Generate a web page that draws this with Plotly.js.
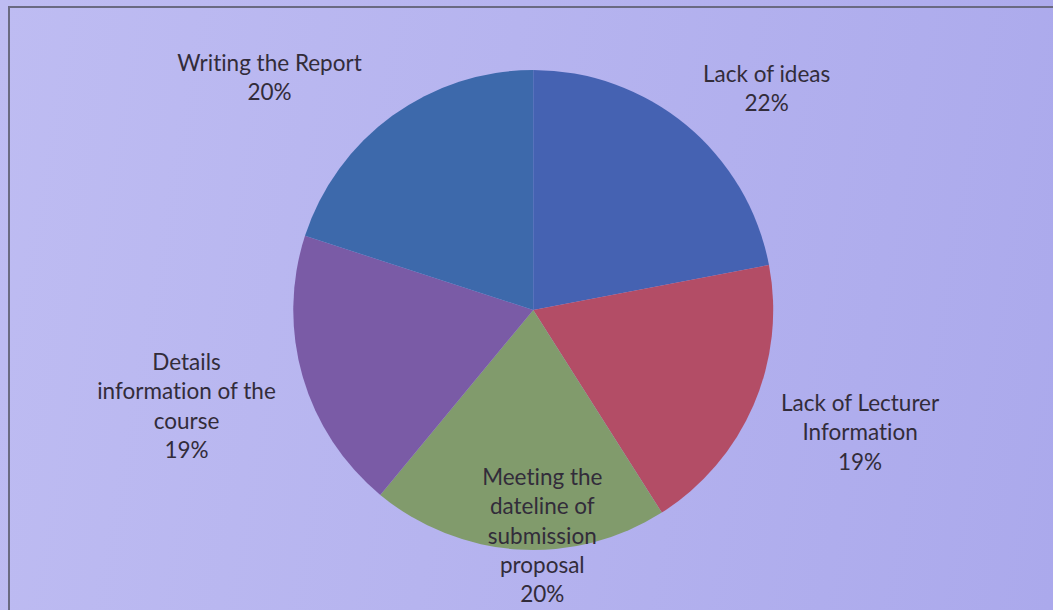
<!DOCTYPE html>
<html>
<head>
<meta charset="utf-8">
<script src="https://cdn.plot.ly/plotly-3.0.1.min.js"></script>
<style>
  html, body { margin: 0; padding: 0; width: 1053px; height: 610px; overflow: hidden; }
  body { background: linear-gradient(100deg, #bebcf2 0%, #b6b4ef 45%, #aba9ec 100%); }
  #frame { position: absolute; left: 8px; top: 6px; width: 1100px; height: 700px;
           border-left: 2px solid #6a6a82; border-top: 2px solid #6a6a82; }
  #chart { position: absolute; left: 0; top: 0; width: 1053px; height: 610px; }
  #chart text { font-variant-ligatures: none; font-feature-settings: "liga" 0, "clig" 0; }
</style>
</head>
<body>
<div id="frame"></div>
<div id="chart"></div>
<script>
// Data
const categories = [
  "Lack of ideas",
  "Lack of Lecturer<br>Information",
  "Meeting the<br>dateline of<br>submission<br>proposal",
  "Details<br>information of the<br>course",
  "Writing the Report"
];
const values = [22, 19, 20, 19, 20];
const sliceColors = ["#4562b2", "#b34d66", "#819b6c", "#7a5ba6", "#3d69ab"];

// Label placement (paper coordinates) - style only
const labelPos = [
  {x: 0.728, y: 0.856},
  {x: 0.817, y: 0.292},
  {x: 0.515, y: 0.123},
  {x: 0.177, y: 0.336},
  {x: 0.256, y: 0.874}
];

const total = values.reduce((a, b) => a + b, 0);
const annotations = categories.map((c, i) => ({
  xref: 'paper', yref: 'paper',
  x: labelPos[i].x, y: labelPos[i].y,
  xanchor: 'center', yanchor: 'middle',
  showarrow: false, align: 'center',
  text: c + '<br>' + Math.round(values[i] / total * 100) + '%',
  font: {family: 'Lato, "Open Sans", sans-serif', size: 22.5, color: '#322c3a'}
}));

const trace = {
  type: 'pie',
  labels: categories,
  values: values,
  sort: false,
  direction: 'clockwise',
  rotation: 0,
  marker: {colors: sliceColors, line: {width: 0}},
  textinfo: 'none',
  hoverinfo: 'none',
  showlegend: false,
  domain: {x: [0.2773, 0.7355], y: [0.0984, 0.8852]}
};

const layout = {
  width: 1053, height: 610,
  margin: {l: 0, r: 0, t: 0, b: 0},
  paper_bgcolor: 'rgba(0,0,0,0)',
  plot_bgcolor: 'rgba(0,0,0,0)',
  showlegend: false,
  annotations: annotations
};

Plotly.newPlot('chart', [trace], layout, {displayModeBar: false, staticPlot: true});
</script>
</body>
</html>
